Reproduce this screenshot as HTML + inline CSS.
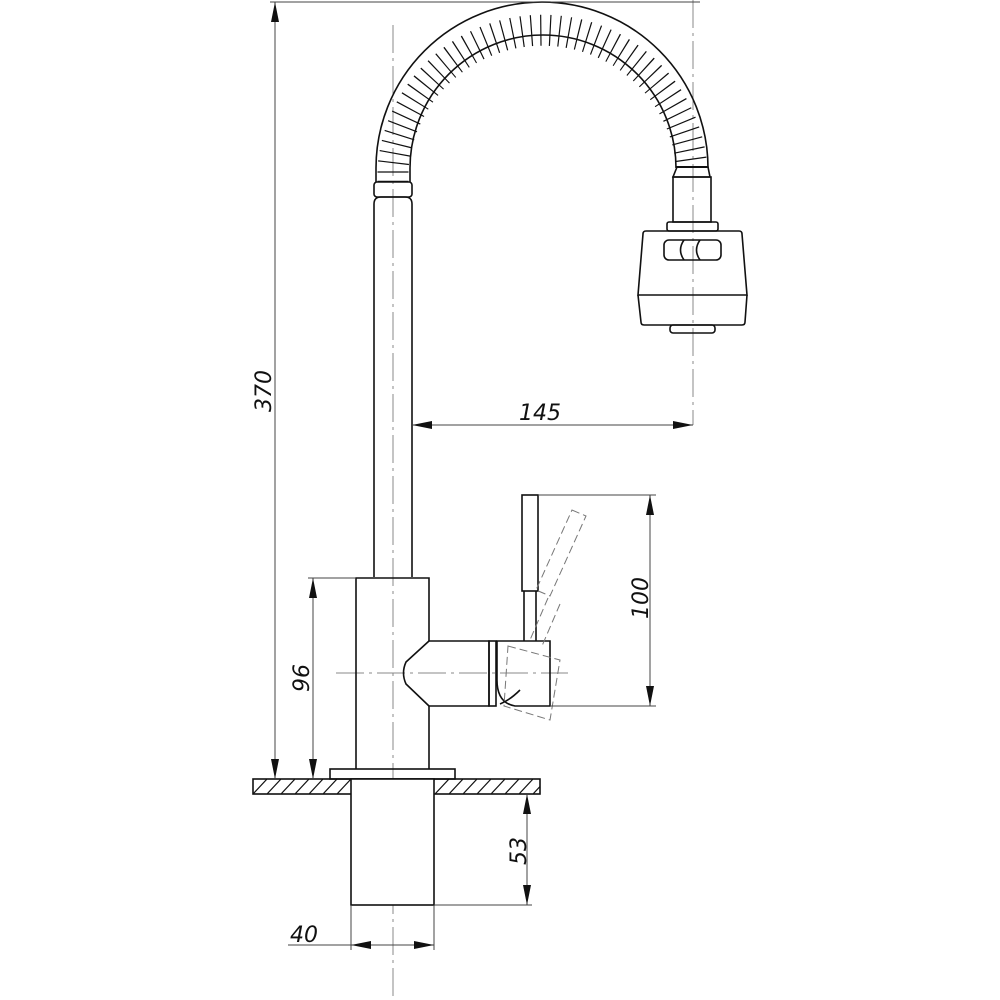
<!DOCTYPE html>
<html><head><meta charset="utf-8"><style>
html,body{margin:0;padding:0;background:#fff}
svg{display:block}
text{font-family:"DejaVu Sans","Liberation Sans",sans-serif;font-style:italic;font-size:22px;fill:#111}
</style></head><body>
<svg width="1000" height="1000" viewBox="0 0 1000 1000" xmlns="http://www.w3.org/2000/svg">
<defs>
<pattern id="hatch" width="14" height="15" patternUnits="userSpaceOnUse" x="253" y="779">
<line x1="0" y1="15" x2="14" y2="0" stroke="#111" stroke-width="1.2"/>
</pattern>
</defs>
<!-- centerlines -->
<g stroke="#888" stroke-width="1" fill="none" stroke-dasharray="28 5 3 5">
<line x1="393" y1="25" x2="393" y2="1000"/>
<line x1="693" y1="0" x2="693" y2="425"/>
<line x1="336" y1="673" x2="568" y2="673"/>
</g>
<!-- hose ribs -->
<path d="M393 182 L393 168 A150 150 0 0 1 692 168" fill="none" stroke="#111" stroke-width="31" stroke-dasharray="1.2 8.2"/>
<path d="M393 182 L393 168 A150 150 0 0 1 692 168" fill="none" stroke="#fff" stroke-width="0"/>
<g fill="none" stroke="#111" stroke-width="1.6">
<path d="M376 182 L376 168 A166 166 0 0 1 708 168 L708 167"/>
<path d="M410 182 L410 168 A133 133 0 0 1 676 168 L676 167"/>
<line x1="676" y1="167" x2="708" y2="167" stroke-width="2"/>
<!-- left nut & pipe -->
<rect x="374" y="182" width="38" height="15" rx="3"/>
<path d="M374 577 L374 204 Q374 197 381 197 L405 197 Q412 197 412 204 L412 577"/>
<!-- spray head -->
<path d="M677 167 L708 167 L710 177 L673 177 Z"/>
<rect x="673" y="177" width="38" height="45"/>
<rect x="667" y="222" width="51" height="9" rx="2"/>
<path d="M646 231 L739 231 Q742 231 742 234 L747 295 L638 295 L643 234 Q643 231 646 231 Z"/>
<path d="M638 295 L641 322 Q641 325 644 325 L742 325 Q745 325 745 322 L747 295"/>
<rect x="670" y="325" width="45" height="8" rx="3"/>
<rect x="664" y="240" width="57" height="20" rx="5"/>
<path d="M684 240 Q677 250 684 260 M700 240 Q693 250 700 260"/>
<!-- body -->
<path d="M356 769 L356 578 L429 578 L429 641 L489 641 L489 706 L429 706 L429 769"/>
<path d="M429 641 L406 662 Q401 673 406 684 L429 706"/>
<rect x="489" y="641" width="7" height="65"/>
<path d="M497 641 L550 641 L550 706 L515 706 Q497 703 497 680 Z"/>
<path d="M500 704 Q510 700 520 690"/>
<!-- lever -->
<rect x="522" y="495" width="16" height="96"/>
<path d="M524 591 L524 641 M536 591 L536 641"/>
<!-- base -->
<rect x="330" y="769" width="125" height="10"/>
<rect x="253" y="779" width="287" height="15" fill="url(#hatch)"/>
<rect x="351" y="779" width="83" height="126" fill="#fff"/>
</g>
<!-- ghost lever -->
<g fill="none" stroke="#777" stroke-width="1" stroke-dasharray="8 4">
<path d="M572 510 L586 516 L550 596 L536 590 Z"/>
<path d="M548 598 L530 640 M560 604 L542 646"/>
<path d="M508 646 L560 660 L550 720 L504 706 Z"/>
</g>
<!-- dimensions -->
<g stroke="#444" stroke-width="1" fill="none">
<line x1="270" y1="2" x2="700" y2="2"/>
<line x1="275" y1="2" x2="275" y2="779"/>
<line x1="313" y1="578" x2="313" y2="779"/>
<line x1="308" y1="578" x2="356" y2="578"/>
<line x1="412" y1="425" x2="693" y2="425"/>
<line x1="538" y1="495" x2="656" y2="495"/>
<line x1="550" y1="706" x2="656" y2="706"/>
<line x1="650" y1="495" x2="650" y2="706"/>
<line x1="527" y1="794" x2="527" y2="905"/>
<line x1="434" y1="905" x2="532" y2="905"/>
<line x1="351" y1="905" x2="351" y2="950"/>
<line x1="434" y1="905" x2="434" y2="950"/>
<line x1="288" y1="945" x2="434" y2="945"/>
</g>
<g fill="#111">
<path d="M275 2 L271 22 L279 22 Z"/><path d="M275 779 L271 759 L279 759 Z"/>
<path d="M313 578 L309 598 L317 598 Z"/><path d="M313 779 L309 759 L317 759 Z"/>
<path d="M412 425 L432 421 L432 429 Z"/><path d="M693 425 L673 421 L673 429 Z"/>
<path d="M650 495 L646 515 L654 515 Z"/><path d="M650 706 L646 686 L654 686 Z"/>
<path d="M527 794 L523 814 L531 814 Z"/><path d="M527 905 L523 885 L531 885 Z"/>
<path d="M351 945 L371 941 L371 949 Z"/><path d="M434 945 L414 941 L414 949 Z"/>
</g>
<text x="0" y="0" transform="translate(271 412) rotate(-90)">370</text>
<text x="0" y="0" transform="translate(309 692) rotate(-90)">96</text>
<text x="0" y="0" transform="translate(648 619) rotate(-90)">100</text>
<text x="0" y="0" transform="translate(526 865) rotate(-90)">53</text>
<text x="519" y="420">145</text>
<text x="290" y="942">40</text>
</svg>
</body></html>
